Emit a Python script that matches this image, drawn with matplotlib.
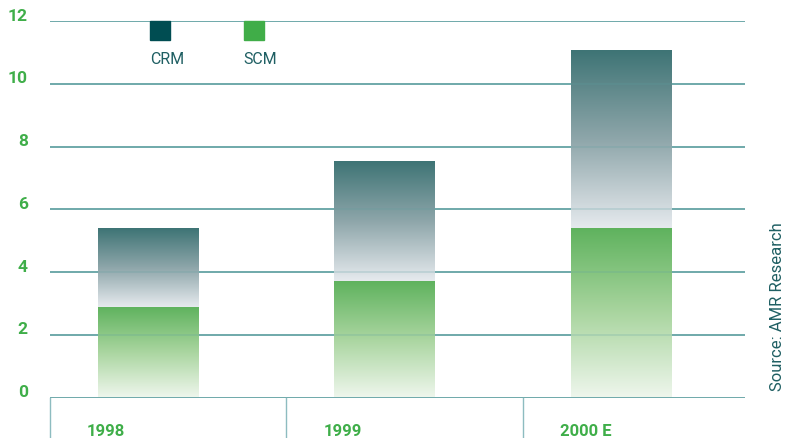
import matplotlib.pyplot as plt
from matplotlib.colors import LinearSegmentedColormap
import numpy as np

# данные (млрд $)
years = ['1998', '1999', '2000 E']
scm = [2.9, 3.7, 5.4]
crm = [2.5, 3.8, 5.65]
yticks = [0, 2, 4, 6, 8, 10, 12]

green = '#3fae49'
teal_text = '#1f5f63'
grid_col = '#5d9fa1'

cmap_scm = LinearSegmentedColormap.from_list('scm', ['#eef6ec', '#a9d59f', '#5eb25d'])
cmap_crm = LinearSegmentedColormap.from_list('crm', ['#e6eaee', '#8ea6aa', '#3e7475'])

fig = plt.figure(figsize=(7.85, 4.39), dpi=100)
W, H = 785, 439
ax = fig.add_axes([50 / W, (H - 398.5) / H, (745 - 50) / W, (398.5 - 22) / H])

ax.set_xlim(0, 2.94)
ax.set_ylim(0, 12)
for s in ax.spines.values():
    s.set_visible(False)
ax.set_xticks([])
ax.set_yticks([])

# сетка (поверх столбцов слегка просвечивает)
for v in yticks:
    ax.axhline(v, color=grid_col, lw=1.2, zorder=1)
    ax.axhline(v, color=grid_col, lw=1.2, alpha=0.25, zorder=3)
    ax.text(-0.094, v + 0.19, str(v), color=green, fontsize=12.5, fontweight='bold',
            ha='right', va='center', family='Roboto', clip_on=False)

grad = np.linspace(0, 1, 256).reshape(-1, 1)
offset = 0.416
width = 0.427
for i, (s, c) in enumerate(zip(scm, crm)):
    x0 = i + offset - width / 2
    x1 = i + offset + width / 2
    ax.imshow(grad, cmap=cmap_scm, origin='lower', aspect='auto',
              extent=[x0, x1, 0, s], zorder=2)
    ax.imshow(grad, cmap=cmap_crm, origin='lower', aspect='auto',
              extent=[x0, x1, s, s + c], zorder=2)

ax.set_xlim(0, 2.94)
ax.set_ylim(0, 12)

# разделители категорий и подписи
for i, y in enumerate(years):
    ax.plot([i, i], [0, -1.35], color='#8dbcc0', lw=1.0, clip_on=False, zorder=1)
    ax.text(i + 0.156, -1.05, y, color=green, fontsize=12, fontweight='bold',
            ha='left', va='center', family='Roboto', clip_on=False)

# легенда
fig.patches.append(plt.Rectangle((150 / W, 1 - 41 / H), 20 / W, 19 / H,
                                 transform=fig.transFigure, color='#004d52'))
fig.patches.append(plt.Rectangle((244 / W, 1 - 41 / H), 20 / W, 19 / H,
                                 transform=fig.transFigure, color='#40ad48'))
fig.text(167 / W, 1 - 59 / H, 'CRM', color=teal_text, fontsize=11.5, ha='center', va='center',
         family='Roboto')
fig.text(260 / W, 1 - 59 / H, 'SCM', color=teal_text, fontsize=11.5, ha='center', va='center',
         family='Roboto')

fig.text(777 / W, 1 - 307 / H, 'Source: AMR Research', color=teal_text, fontsize=12,
         rotation=90, ha='center', va='center', family='Roboto')

fig.savefig('out.png', dpi=100)
